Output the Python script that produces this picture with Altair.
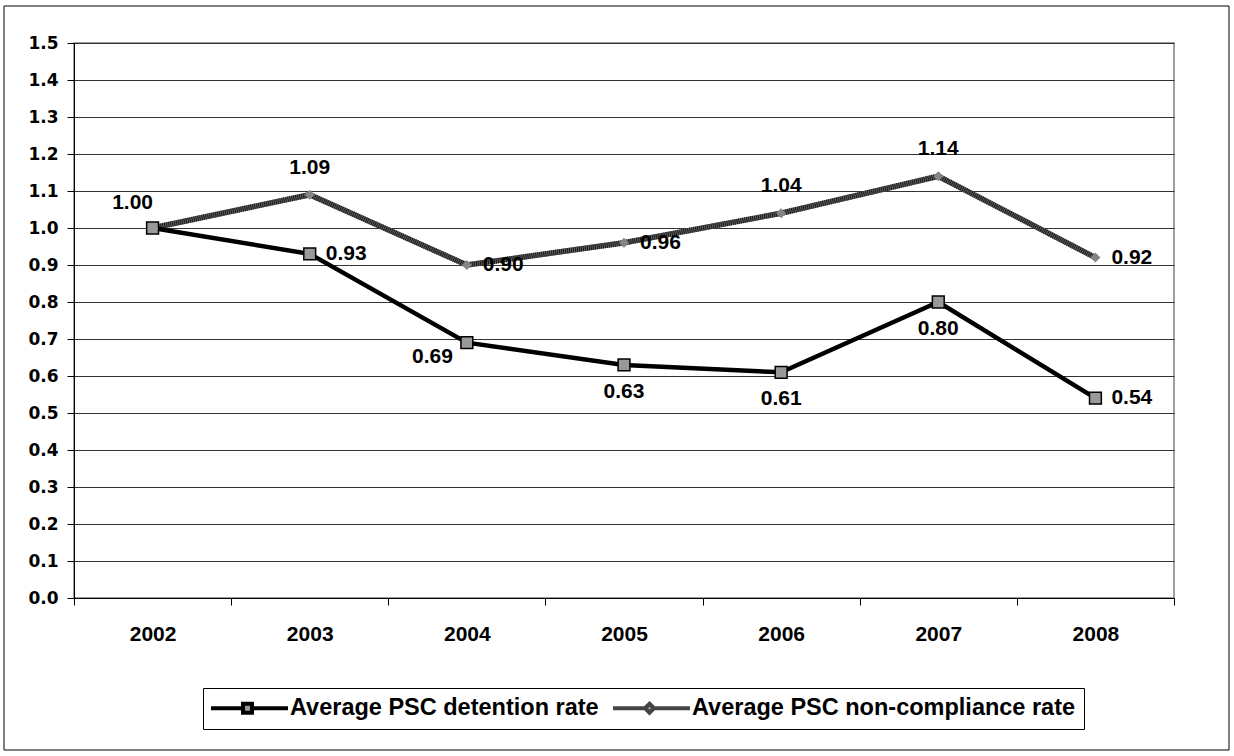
import altair as alt
import pandas as pd

# ---- chart values ----
years = ["2002", "2003", "2004", "2005", "2006", "2007", "2008"]
detention = [1.00, 0.93, 0.69, 0.63, 0.61, 0.80, 0.54]
noncompliance = [1.00, 1.09, 0.90, 0.96, 1.04, 1.14, 0.92]
detention_labels = ["1.00", "0.93", "0.69", "0.63", "0.61", "0.80", "0.54"]
noncompliance_labels = ["", "1.09", "0.90", "0.96", "1.04", "1.14", "0.92"]
# where each value label sits relative to its point
detention_label_side = ["above-left", "right", "below-left", "below", "below", "below", "right"]
noncompliance_label_side = ["", "above", "right", "right", "above", "above", "right"]
series_names = ["Average PSC detention rate", "Average PSC non-compliance rate"]
y_ticks = [0.0, 0.1, 0.2, 0.3, 0.4, 0.5, 0.6, 0.7, 0.8, 0.9, 1.0, 1.1, 1.2, 1.3, 1.4, 1.5]

rows = []
for i, yr in enumerate(years):
    rows.append(dict(year=yr, series=series_names[0], value=detention[i],
                     label=detention_labels[i], side=detention_label_side[i]))
    rows.append(dict(year=yr, series=series_names[1], value=noncompliance[i],
                     label=noncompliance_labels[i], side=noncompliance_label_side[i]))
df = pd.DataFrame(rows)

W, H = 1100, 555
LABEL_FONT = "Liberation Sans"

x_enc = alt.X("year:N", sort=years, bandPosition=0.5,
              scale=alt.Scale(type="band", paddingInner=0, paddingOuter=0),
              axis=alt.Axis(title=None, labelAngle=0, tickBand="extent", grid=False,
                            domainColor="black", tickColor="black", tickSize=7,
                            labelFont=LABEL_FONT, labelFontSize=21, labelFontWeight="bold",
                            labelColor="black", labelPadding=18))
y_enc = alt.Y("value:Q", scale=alt.Scale(domain=[0, 1.5], nice=False, zero=True),
              axis=alt.Axis(title=None, values=y_ticks, format=".1f", grid=True,
                            gridColor="#333333", gridWidth=1, domainColor="black",
                            tickColor="black", tickSize=7, labelFont="DejaVu Sans",
                            labelFontSize=17, labelFontWeight="bold", labelColor="black",
                            labelPadding=9))

base = alt.Chart(df).encode(x=x_enc, y=y_enc)
det = base.transform_filter(alt.datum.series == series_names[0])
non = base.transform_filter(alt.datum.series == series_names[1])

# outer frame around the whole figure
frame = alt.Chart(pd.DataFrame({"k": [0]})).mark_rect(
    fill=None, stroke="black", strokeWidth=1, clip=False
).encode(x=alt.value(-70), x2=alt.value(1155), y=alt.value(-37), y2=alt.value(707))

# non-compliance line: grey base with dark hatching on top
non_base = non.mark_line(color="#5e5e5e", strokeWidth=5.5)
non_hatch = non.mark_line(color="#1a1a1a", strokeWidth=5.5, strokeDash=[1, 1])
det_line = det.mark_line(color="black", strokeWidth=4.5)

non_pts = non.mark_point(shape="diamond", filled=True, color="#858585", size=100, opacity=1)
det_pts = det.mark_point(shape="square", filled=True, fill="#999999", stroke="black",
                         strokeWidth=1.5, size=140, opacity=1)

# value labels, one layer per placement
placements = {
    "above": dict(dx=0, dy=-27, align="center"),
    "below": dict(dx=0, dy=27, align="center"),
    "right": dict(dx=16, dy=0, align="left"),
    "below-left": dict(dx=-14, dy=14, align="right"),
    "above-left": dict(dx=-20, dy=-25, align="center"),
}
text_layers = []
for side, opts in placements.items():
    text_layers.append(
        base.transform_filter(alt.datum.side == side).mark_text(
            font=LABEL_FONT, fontSize=21, fontWeight="bold", color="black",
            baseline="middle", **opts
        ).encode(text="label:N")
    )

# legend-only layer: each symbol combines the line with its marker
det_symbol = "M-1.2,0L2,0M2.9,0L6.5,0M2,-0.45L2.9,-0.45L2.9,0.45L2,0.45Z"
non_symbol = "M-1.2,0L2,0M2.9,0L6.5,0M2.45,-0.45L2.9,0L2.45,0.45L2,0Z"
legend_layer = alt.Chart(df).transform_filter("false").mark_point(
    filled=True, fill="#999999", strokeWidth=4, opacity=1
).encode(
    x=x_enc, y=y_enc,
    stroke=alt.Stroke("series:N", scale=alt.Scale(domain=series_names, range=["black", "#444444"]),
                      legend=alt.Legend(title=None)),
    shape=alt.Shape("series:N", scale=alt.Scale(domain=series_names, range=[det_symbol, non_symbol]),
                    legend=alt.Legend(title=None)),
)

chart = alt.layer(
    frame, non_base, non_hatch, det_line, non_pts, det_pts, *text_layers, legend_layer
).properties(
    width=W, height=H,
    autosize=alt.AutoSizeParams(type="none"),
    padding={"left": 74, "top": 43, "right": 60, "bottom": 158},
    background="white",
).configure_view(
    stroke="#808080", strokeWidth=1.5
).configure_legend(
    orient="none", legendX=129, legendY=645, direction="horizontal",
    strokeColor="black", strokeWidth=1, fillColor="white", padding=8,
    labelFont=LABEL_FONT, labelFontSize=23.5, labelFontWeight="bold", labelColor="black",
    labelLimit=600, labelOffset=55, columnPadding=6,
    symbolSize=400, symbolStrokeWidth=4, symbolFillColor="#999999", symbolOpacity=1,
)

chart.save("out.html", embed_options={"renderer": "svg", "actions": False})
